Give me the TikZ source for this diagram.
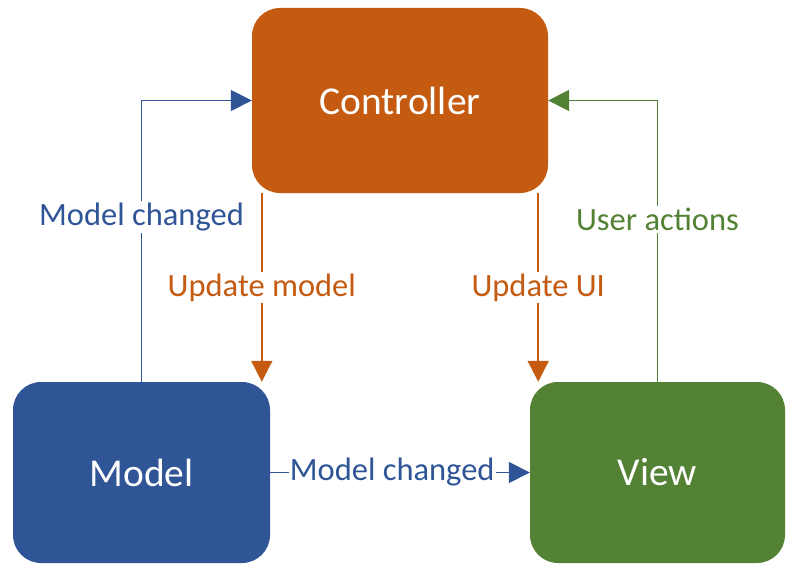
\documentclass[tikz,border=0pt]{standalone}
\usepackage{fontspec}
\setmainfont{Carlito}
\usetikzlibrary{arrows.meta}
\definecolor{corange}{RGB}{197,90,17}
\definecolor{cblue}{RGB}{47,85,151}
\definecolor{cgreen}{RGB}{84,130,53}
\begin{document}
\begin{tikzpicture}[x=1pt,y=-1pt,
  box/.style={rounded corners=28pt, inner sep=0pt, text=white, font=\fontsize{39.5}{42}\selectfont},
  conn/.style={line width=1.6pt, -{Triangle[length=21pt,width=21pt]}},
  lbl/.style={fill=white, inner sep=2pt, font=\fontsize{32.5}{34}\selectfont}]
\useasboundingbox (0,0) rectangle (787,567);
\node[box, fill=corange, minimum width=296pt, minimum height=185pt] (ctrl) at (400,100.5) {Controller};
\node[box, fill=cblue, minimum width=257pt, minimum height=181pt] (model) at (141.5,472.5) {Model};
\node[box, fill=cgreen, minimum width=255pt, minimum height=181pt] (view) at (657.5,472.5) {View};
% Model -> Controller
\draw[conn, cblue] (model.north) |- node[lbl, pos=0.293, text=cblue] {Model changed} (ctrl.west);
% View -> Controller
\draw[conn, cgreen] (view.north) |- node[lbl, pos=0.289, text=cgreen] {User actions} (ctrl.east);
% Controller -> Model
\draw[conn, corange] ([xshift=10pt]ctrl.south west) -- node[lbl, pos=0.5, text=corange] {Update model} ([xshift=10pt]ctrl.south west |- model.north);
% Controller -> View
\draw[conn, corange] ([xshift=-10pt]ctrl.south east) -- node[lbl, pos=0.5, text=corange] {Update UI} ([xshift=-10pt]ctrl.south east |- view.north);
% Model -> View
\draw[conn, cblue] (model.east) -- node[lbl, pos=0.47, text=cblue, inner sep=1pt] {Model changed} (view.west);
\end{tikzpicture}
\end{document}
